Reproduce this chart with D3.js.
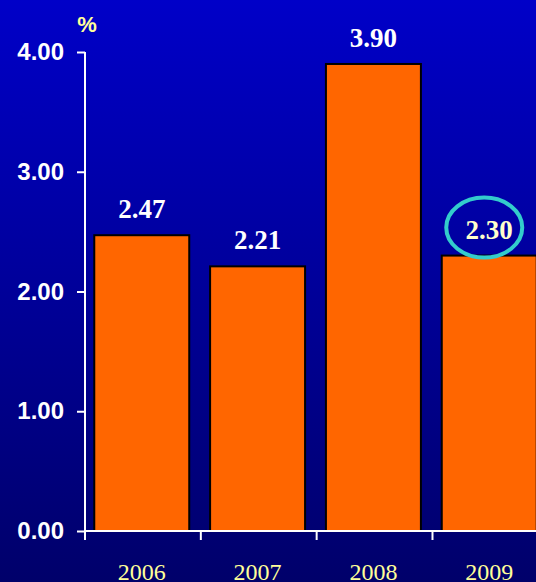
<!DOCTYPE html>
<html>
<head>
<meta charset="utf-8">
<script src="https://cdn.jsdelivr.net/npm/d3@7"></script>
<style>
  body { margin: 0; overflow: hidden; }
</style>
</head>
<body>
<div id="chart"></div>
<script>
const years = ["2006", "2007", "2008", "2009"];
const rates = [2.47, 2.21, 3.90, 2.30];
const yTicks = [0, 1, 2, 3, 4];
const highlighted = "2009";

const width = 536, height = 582;
const margin = { top: 52, bottom: 51, left: 85, right: -10 };

const svg = d3.select("#chart").append("svg")
  .attr("width", width)
  .attr("height", height);

// background gradient
const grad = svg.append("defs").append("linearGradient")
  .attr("id", "bg").attr("x1", 0).attr("y1", 0).attr("x2", 0).attr("y2", 1);
grad.append("stop").attr("offset", "0%").attr("stop-color", "#0000c8");
grad.append("stop").attr("offset", "100%").attr("stop-color", "#00006a");
svg.append("rect").attr("width", width).attr("height", height).attr("fill", "url(#bg)");

const x = d3.scaleBand()
  .domain(years)
  .range([margin.left, width - margin.right])
  .paddingInner(0.18)
  .paddingOuter(0.08);

const y = d3.scaleLinear()
  .domain([0, 4])
  .range([height - margin.bottom, margin.top]);

// bars
svg.selectAll(".bar")
  .data(years)
  .join("rect")
  .attr("class", "bar")
  .attr("x", d => x(d))
  .attr("y", (d, i) => y(rates[i]))
  .attr("width", x.bandwidth())
  .attr("height", (d, i) => y(0) - y(rates[i]))
  .attr("fill", "#ff6600")
  .attr("stroke", "#000")
  .attr("stroke-width", 2);

// y axis
const yAxis = svg.append("g")
  .attr("transform", `translate(${margin.left},0)`)
  .call(d3.axisLeft(y).tickValues(yTicks).tickFormat(d3.format(".2f")).tickSize(8).tickPadding(13));
yAxis.select(".domain").attr("stroke", "#fff").attr("stroke-width", 2).attr("d", `M0,${y(4)}V${y(0)}`);
yAxis.selectAll(".tick line").attr("stroke", "#fff").attr("stroke-width", 2);
yAxis.selectAll(".tick text")
  .attr("fill", "#fff")
  .attr("font-family", "Liberation Sans, Arial, sans-serif")
  .attr("font-weight", "bold")
  .attr("font-size", 24);

// x axis
const step = x.step();
const xAxis = svg.append("g").attr("transform", `translate(0,${y(0)})`);
xAxis.append("line")
  .attr("x1", margin.left).attr("x2", width)
  .attr("stroke", "#fff").attr("stroke-width", 2);
xAxis.selectAll(".xtick")
  .data(years)
  .join("line")
  .attr("class", "xtick")
  .attr("x1", d => margin.left + years.indexOf(d) * step)
  .attr("x2", d => margin.left + years.indexOf(d) * step)
  .attr("y1", 0).attr("y2", 9)
  .attr("stroke", "#fff").attr("stroke-width", 2);
xAxis.selectAll(".xlabel")
  .data(years)
  .join("text")
  .attr("class", "xlabel")
  .attr("x", d => x(d) + x.bandwidth() / 2)
  .attr("y", 49)
  .attr("text-anchor", "middle")
  .attr("fill", "#ffff99")
  .attr("font-family", "Liberation Serif, Times New Roman, serif")
  .attr("font-size", 24)
  .text(d => d);

// value labels
svg.selectAll(".val")
  .data(years)
  .join("text")
  .attr("class", "val")
  .attr("x", d => x(d) + x.bandwidth() / 2)
  .attr("y", (d, i) => y(rates[i]) - 17)
  .attr("text-anchor", "middle")
  .attr("fill", d => d === highlighted ? "#ffffcc" : "#fff")
  .attr("font-family", "Liberation Serif, Times New Roman, serif")
  .attr("font-weight", "bold")
  .attr("font-size", 27)
  .text((d, i) => d3.format(".2f")(rates[i]));

// highlight ellipse
const hi = years.indexOf(highlighted);
svg.append("ellipse")
  .attr("cx", x(highlighted) + x.bandwidth() / 2 - 5)
  .attr("cy", y(rates[hi]) - 28)
  .attr("rx", 38)
  .attr("ry", 30)
  .attr("fill", "none")
  .attr("stroke", "#33cccc")
  .attr("stroke-width", 4);

// unit label
svg.append("text")
  .attr("x", 87).attr("y", 32)
  .attr("text-anchor", "middle")
  .attr("fill", "#ffff99")
  .attr("font-family", "Liberation Sans, Arial, sans-serif")
  .attr("font-weight", "bold")
  .attr("font-size", 22)
  .text("%");
</script>
</body>
</html>
